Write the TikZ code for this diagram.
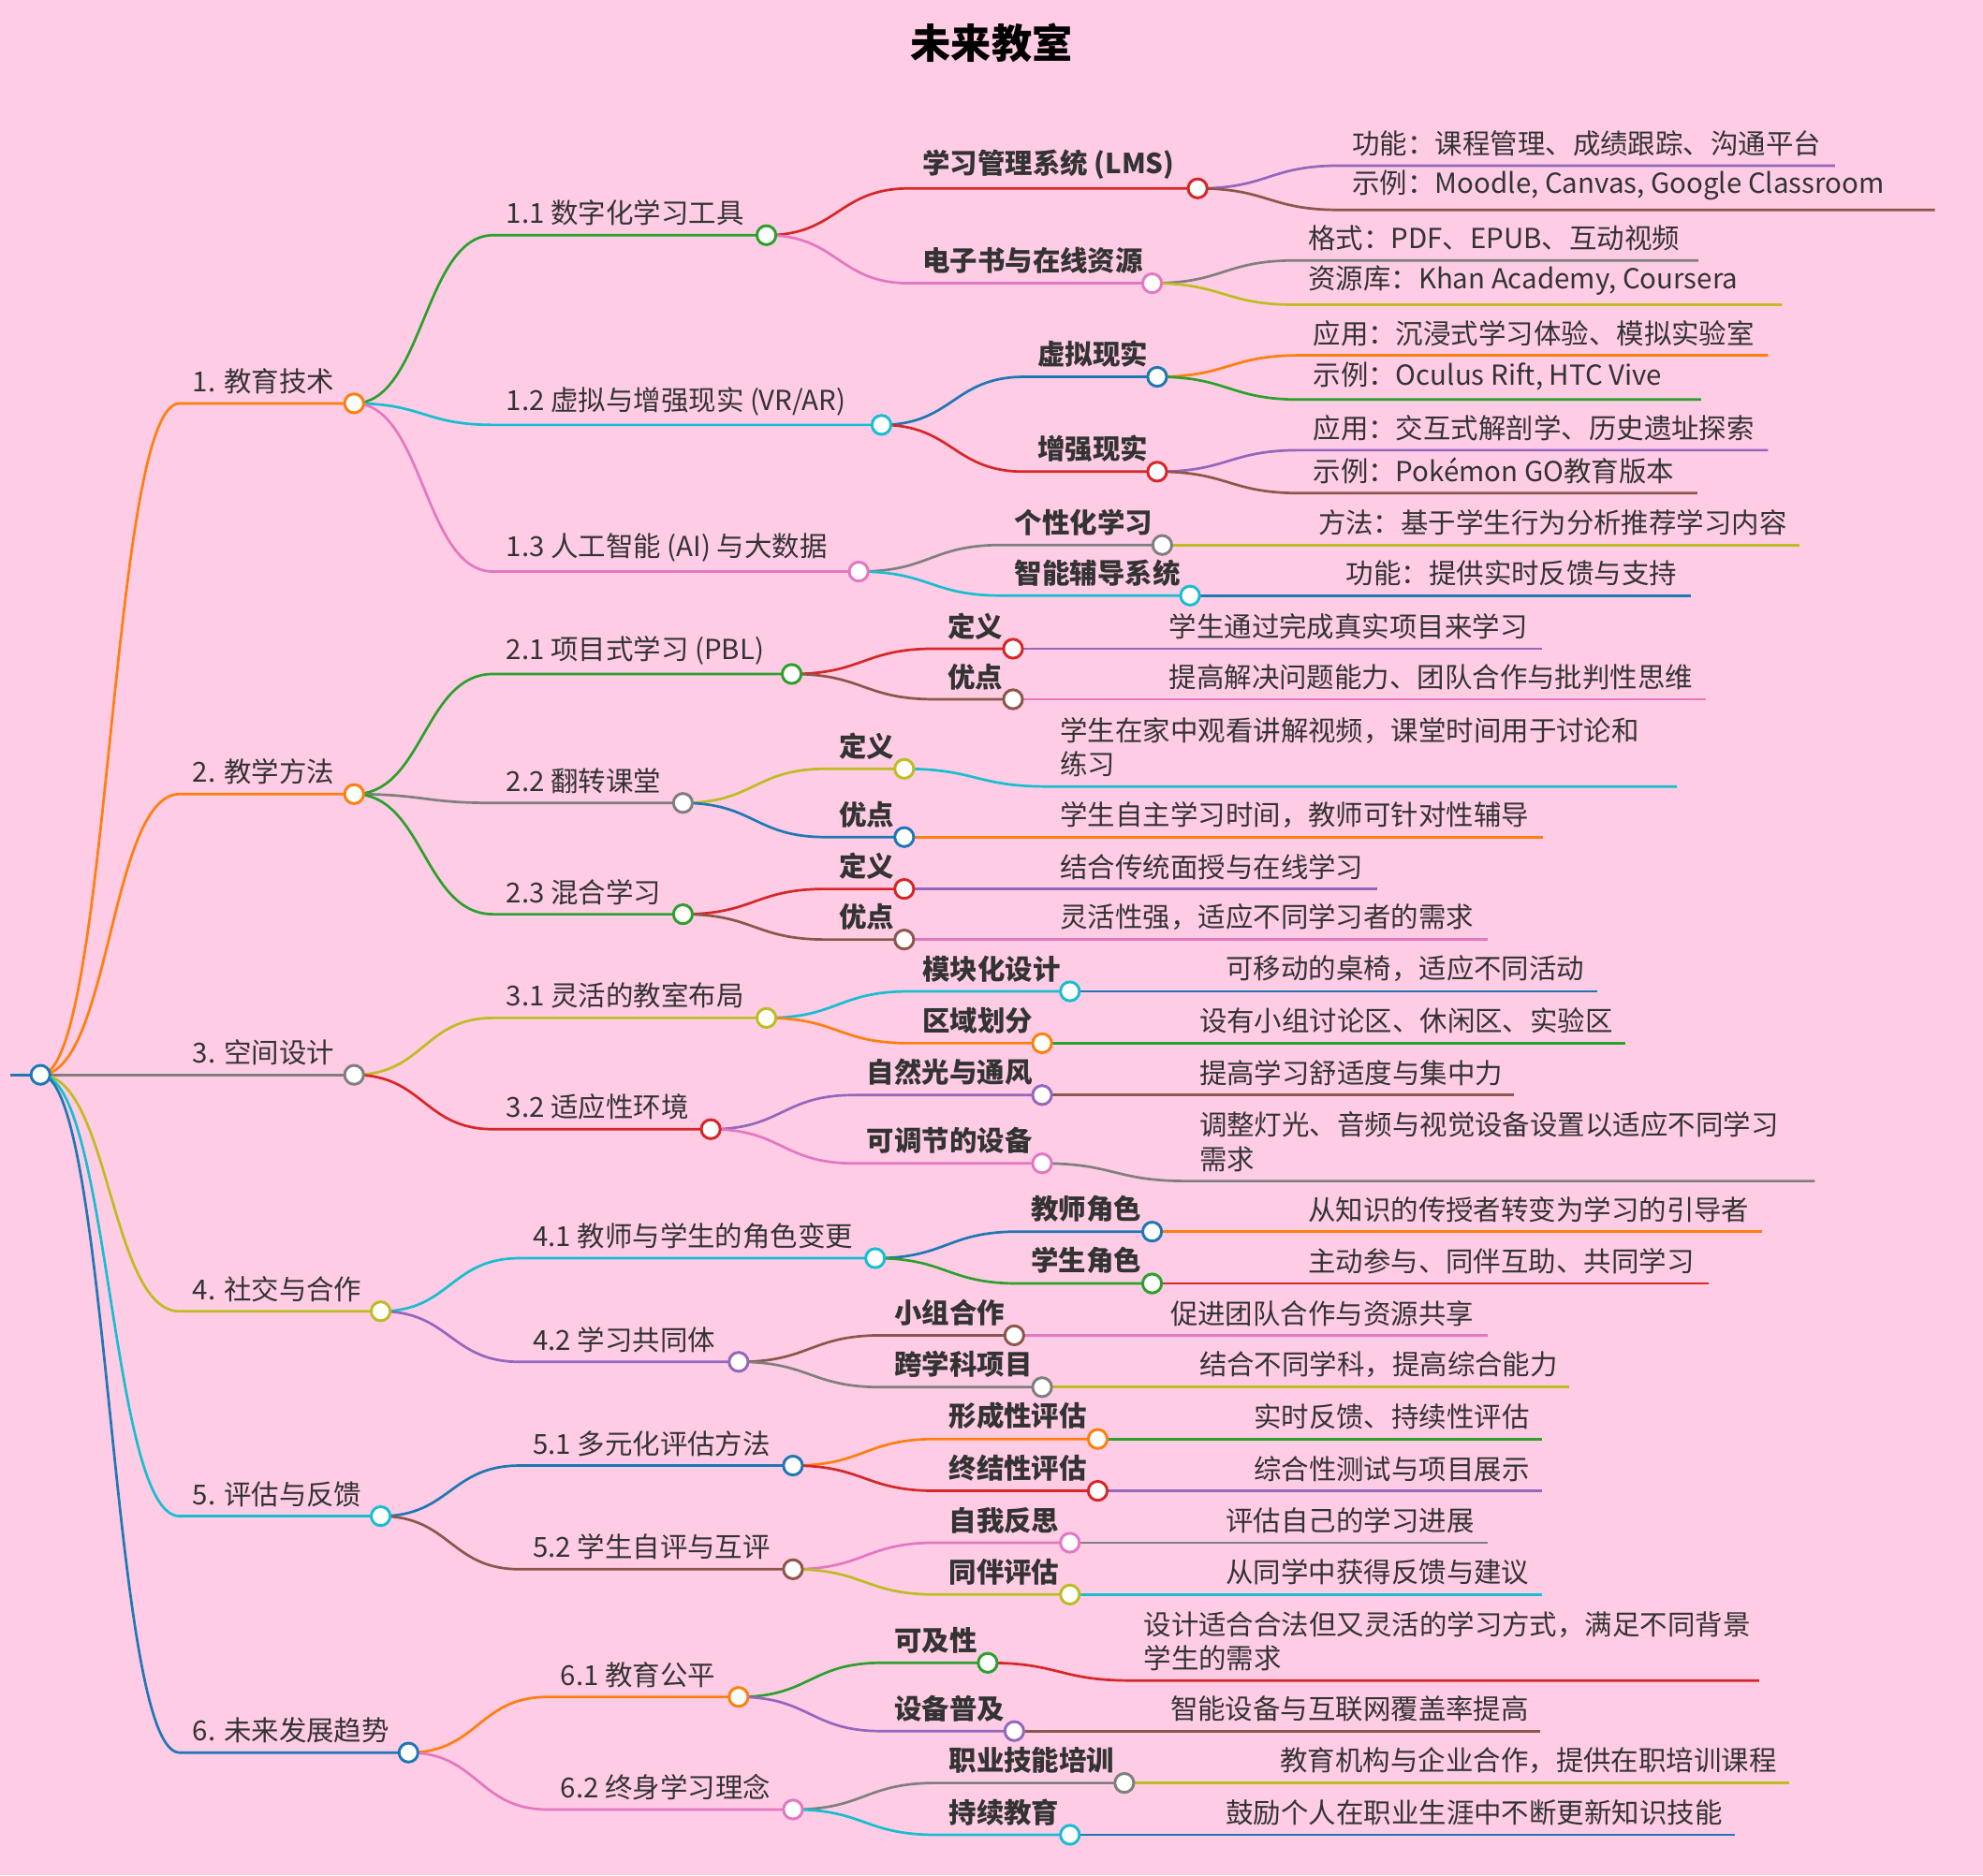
\documentclass[tikz,border=0pt]{standalone}
\usepackage{fontspec}
\setmainfont{Noto Sans CJK SC}
\usetikzlibrary{calc}
\pgfdeclarelayer{bgfill}
\pgfdeclarelayer{background}
\pgfsetlayers{bgfill,background,main}
\definecolor{cbl}{HTML}{1F77B4}\definecolor{cor}{HTML}{FF7F0E}\definecolor{cgr}{HTML}{2CA02C}
\definecolor{crd}{HTML}{D62728}\definecolor{cpu}{HTML}{9467BD}\definecolor{cbr}{HTML}{8C564B}
\definecolor{cpk}{HTML}{E377C2}\definecolor{cgy}{HTML}{7F7F7F}\definecolor{col}{HTML}{BCBD22}
\definecolor{ccy}{HTML}{17BECF}\definecolor{bgc}{HTML}{FFCCE5}\definecolor{tc}{HTML}{333333}
\tikzset{txt/.style={text=tc,font=\fontsize{10.9}{13.5}\selectfont,align=left,inner sep=1pt},
 dot/.style={circle,draw=#1,fill=white,line width=1.1pt,inner sep=0pt,minimum size=7.5pt}}
\newcommand\N[8]{%
 \coordinate (#1-s) at (#3,#5);
 \coordinate (#1) at (#4,#5);
 \begin{pgfonlayer}{background}
 \draw[#6,line width=1pt] let \p1=(#2), \p2=(#1-s) in
   (\p1) .. controls ({0.5*\x1+0.5*\x2},\y1) and ({0.5*\x1+0.5*\x2},\y2) .. (\p2) -- (#1);
 \end{pgfonlayer}
 \node[txt,anchor=south west] (#1-t) at ($(#1-s)+(8,-5)$) {#7};
 \if#8i\node[dot=#6] at (#1) {};\fi}
\begin{document}
\begin{tikzpicture}[x=0.5pt,y=-0.5pt]
\begin{pgfonlayer}{bgfill}\fill[bgc] (0,0) rectangle (1568,1483);\end{pgfonlayer}
\useasboundingbox (0,0) rectangle (1568,1483);
\node[text=black,font=\fontsize{16}{18}\selectfont\bfseries] (title) at (784,34) {未来教室};
\coordinate (r0) at (8,850);
\coordinate (root) at (32,850);
\begin{pgfonlayer}{background}\draw[cbl,line width=1pt] (r0)--(root);\end{pgfonlayer}
\node[dot=cbl] at (root) {};
% level 1
\N{a}{root}{142}{280}{319}{cor}{1. 教育技术}{i}
\N{b}{root}{142}{280}{628}{cor}{2. 教学方法}{i}
\N{c}{root}{142}{280}{850}{cgy}{3. 空间设计}{i}
\N{d}{root}{142}{301}{1037}{col}{4. 社交与合作}{i}
\N{e}{root}{142}{301}{1199}{ccy}{5. 评估与反馈}{i}
\N{f}{root}{142}{323}{1386}{cbl}{6. 未来发展趋势}{i}
% level 2
\N{a1}{a}{390}{606}{186}{cgr}{1.1 数字化学习工具}{i}
\N{a2}{a}{390}{697}{336}{ccy}{1.2 虚拟与增强现实 (VR/AR)}{i}
\N{a3}{a}{390}{679}{452}{cpk}{1.3 人工智能 (AI) 与大数据}{i}
\N{b1}{b}{390}{626}{533}{cgr}{2.1 项目式学习 (PBL)}{i}
\N{b2}{b}{390}{540}{635}{cgy}{2.2 翻转课堂}{i}
\N{b3}{b}{390}{540}{723}{cgr}{2.3 混合学习}{i}
\N{c1}{c}{390}{606}{805}{col}{3.1 灵活的教室布局}{i}
\N{c2}{c}{390}{562}{893}{crd}{3.2 适应性环境}{i}
\N{d1}{d}{411}{692}{995}{ccy}{4.1 教师与学生的角色变更}{i}
\N{d2}{d}{411}{584}{1077}{cpu}{4.2 学习共同体}{i}
\N{e1}{e}{411}{627}{1159}{cbl}{5.1 多元化评估方法}{i}
\N{e2}{e}{411}{627}{1241}{cbr}{5.2 学生自评与互评}{i}
\N{f1}{f}{433}{584}{1342}{cor}{6.1 教育公平}{i}
\N{f2}{f}{433}{627}{1431}{cpk}{6.2 终身学习理念}{i}
% level 3
\N{a11}{a1}{719}{947}{149}{crd}{\textbf{学习管理系统 (LMS)}}{i}
\N{a12}{a1}{719}{911}{224}{cpk}{\textbf{电子书与在线资源}}{i}
\N{a21}{a2}{810}{915}{298}{cbl}{\textbf{虚拟现实}}{i}
\N{a22}{a2}{810}{915}{373}{crd}{\textbf{增强现实}}{i}
\N{a31}{a3}{792}{919}{431}{cgy}{\textbf{个性化学习}}{i}
\N{a32}{a3}{792}{941}{471}{ccy}{\textbf{智能辅导系统}}{i}
\N{b11}{b1}{739}{801}{513}{crd}{\textbf{定义}}{i}
\N{b12}{b1}{739}{801}{553}{cbr}{\textbf{优点}}{i}
\N{b21}{b2}{653}{715}{608}{col}{\textbf{定义}}{i}
\N{b22}{b2}{653}{715}{662}{cbl}{\textbf{优点}}{i}
\N{b31}{b3}{653}{715}{703}{crd}{\textbf{定义}}{i}
\N{b32}{b3}{653}{715}{743}{cbr}{\textbf{优点}}{i}
\N{c11}{c1}{719}{846}{784}{ccy}{\textbf{模块化设计}}{i}
\N{c12}{c1}{719}{824}{825}{cor}{\textbf{区域划分}}{i}
\N{c21}{c2}{675}{824}{866}{cpu}{\textbf{自然光与通风}}{i}
\N{c22}{c2}{675}{824}{920}{cpk}{\textbf{可调节的设备}}{i}
\N{d11}{d1}{805}{911}{974}{cbl}{\textbf{教师角色}}{i}
\N{d12}{d1}{805}{911}{1015}{cgr}{\textbf{学生角色}}{i}
\N{d21}{d2}{697}{802}{1056}{cbr}{\textbf{小组合作}}{i}
\N{d22}{d2}{697}{824}{1097}{cgy}{\textbf{跨学科项目}}{i}
\N{e11}{e1}{740}{868}{1138}{cor}{\textbf{形成性评估}}{i}
\N{e12}{e1}{740}{868}{1179}{crd}{\textbf{终结性评估}}{i}
\N{e21}{e2}{740}{846}{1220}{cpk}{\textbf{自我反思}}{i}
\N{e22}{e2}{740}{846}{1261}{col}{\textbf{同伴评估}}{i}
\N{f11}{f1}{697}{781}{1315}{cgr}{\textbf{可及性}}{i}
\N{f12}{f1}{697}{802}{1369}{cpu}{\textbf{设备普及}}{i}
\N{f21}{f2}{740}{889}{1410}{cgy}{\textbf{职业技能培训}}{i}
\N{f22}{f2}{740}{846}{1451}{ccy}{\textbf{持续教育}}{i}
% leaves
\N{L1}{a11}{1059}{1451}{131}{cpu}{功能：课程管理、成绩跟踪、沟通平台}{l}
\N{L2}{a11}{1059}{1530}{166}{cbr}{示例：Moodle, Canvas, Google Classroom}{l}
\N{L3}{a12}{1024}{1343}{206}{cgy}{格式：PDF、EPUB、互动视频}{l}
\N{L4}{a12}{1024}{1409}{241}{col}{资源库：Khan Academy, Coursera}{l}
\N{L5}{a21}{1028}{1398}{281}{cor}{应用：沉浸式学习体验、模拟实验室}{l}
\N{L6}{a21}{1028}{1345}{316}{cgr}{示例：Oculus Rift, HTC Vive}{l}
\N{L7}{a22}{1028}{1398}{356}{cpu}{应用：交互式解剖学、历史遗址探索}{l}
\N{L8}{a22}{1028}{1342}{390}{cbr}{示例：Pokémon GO教育版本}{l}
\N{L9}{a31}{1032}{1423}{431}{col}{方法：基于学生行为分析推荐学习内容}{l}
\N{L10}{a32}{1054}{1337}{471}{cbl}{功能：提供实时反馈与支持}{l}
\N{L11}{b11}{914}{1219}{513}{cpu}{学生通过完成真实项目来学习}{l}
\N{L12}{b12}{914}{1349}{553}{cpk}{提高解决问题能力、团队合作与批判性思维}{l}
\N{L13}{b21}{828}{1326}{622}{ccy}{学生在家中观看讲解视频，课堂时间用于讨论和\\练习}{l}
\N{L14}{b22}{828}{1220}{662}{cor}{学生自主学习时间，教师可针对性辅导}{l}
\N{L15}{b31}{828}{1089}{703}{cpu}{结合传统面授与在线学习}{l}
\N{L16}{b32}{828}{1176}{743}{cpk}{灵活性强，适应不同学习者的需求}{l}
\N{L17}{c11}{959}{1263}{784}{cbl}{可移动的桌椅，适应不同活动}{l}
\N{L18}{c12}{938}{1285}{825}{cgr}{设有小组讨论区、休闲区、实验区}{l}
\N{L19}{c21}{938}{1197}{866}{cbr}{提高学习舒适度与集中力}{l}
\N{L20}{c22}{938}{1435}{934}{cgy}{调整灯光、音频与视觉设备设置以适应不同学习\\需求}{l}
\N{L21}{d11}{1024}{1393}{974}{cor}{从知识的传授者转变为学习的引导者}{l}
\N{L22}{d12}{1024}{1351}{1015}{crd}{主动参与、同伴互助、共同学习}{l}
\N{L23}{d21}{915}{1176}{1056}{cpk}{促进团队合作与资源共享}{l}
\N{L24}{d22}{938}{1241}{1097}{col}{结合不同学科，提高综合能力}{l}
\N{L25}{e11}{981}{1219}{1138}{cgr}{实时反馈、持续性评估}{l}
\N{L26}{e12}{981}{1219}{1179}{cpu}{综合性测试与项目展示}{l}
\N{L27}{e21}{959}{1176}{1220}{cgy}{评估自己的学习进展}{l}
\N{L28}{e22}{959}{1219}{1261}{ccy}{从同学中获得反馈与建议}{l}
\N{L29}{f11}{894}{1391}{1329}{crd}{设计适合合法但又灵活的学习方式，满足不同背景\\学生的需求}{l}
\N{L30}{f12}{915}{1218}{1369}{cbr}{智能设备与互联网覆盖率提高}{l}
\N{L31}{f21}{1002}{1415}{1410}{col}{教育机构与企业合作，提供在职培训课程}{l}
\N{L32}{f22}{959}{1372}{1451}{cbl}{鼓励个人在职业生涯中不断更新知识技能}{l}
\end{tikzpicture}
\end{document}
